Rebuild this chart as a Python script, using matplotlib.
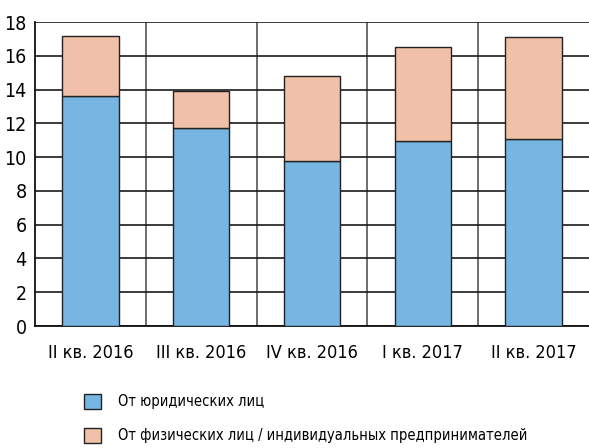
import matplotlib
matplotlib.use('Agg')

import matplotlib.pyplot as plt
from matplotlib.patches import Patch
from matplotlib.ticker import MultipleLocator, FixedLocator

categories = ['II кв. 2016', 'III кв. 2016', 'IV кв. 2016', 'I кв. 2017', 'II кв. 2017']
legal = [13.6, 11.75, 9.75, 10.95, 11.1]
individual = [3.6, 2.15, 5.05, 5.55, 6.0]
series_names = ['От юридических лиц', 'От физических лиц / индивидуальных предпринимателей']

blue = '#77b5e2'
peach = '#f0c1a8'

plt.rcParams['font.family'] = ['DejaVu Sans']
plt.rcParams['font.stretch'] = 'condensed'

fig = plt.figure(figsize=(5.89, 4.48), dpi=100)
ax = fig.add_axes([35 / 589, 122 / 448, 554 / 589, 304 / 448])

x = range(len(categories))
ax.bar(x, legal, width=0.51, color=blue, edgecolor='#222222', linewidth=1.0, zorder=3)
ax.bar(x, individual, width=0.51, bottom=legal, color=peach, edgecolor='#222222', linewidth=1.0, zorder=3)

ax.set_xlim(-0.5, len(categories) - 0.5)
ax.set_ylim(0, 18)
ax.yaxis.set_major_locator(MultipleLocator(2))
ax.set_xticks(list(x))
ax.set_xticklabels(categories)
ax.xaxis.set_minor_locator(FixedLocator([i + 0.5 for i in range(len(categories) - 1)]))

ax.grid(axis='y', which='major', color='#1a1a1a', linewidth=1.2, zorder=1)
ax.grid(axis='x', which='minor', color='#555555', linewidth=1.2, zorder=1)
ax.tick_params(axis='y', which='both', length=0, labelsize=14, pad=6)
ax.tick_params(axis='x', which='both', length=0, labelsize=13, pad=13)

for side in ['top', 'right']:
    ax.spines[side].set_visible(False)
for side in ['left', 'bottom']:
    ax.spines[side].set_linewidth(1.3)
    ax.spines[side].set_color('#111111')

handles = [Patch(facecolor=blue, edgecolor='#222222', linewidth=1.0),
           Patch(facecolor=peach, edgecolor='#222222', linewidth=1.0)]
fig.legend(handles, series_names, loc='upper left', bbox_to_anchor=(84 / 589, 1 - 394 / 448),
           frameon=False, fontsize=10.5, handlelength=1.15, handleheight=1.2,
           handletextpad=1.2, labelspacing=1.25, borderpad=0, borderaxespad=0)

plt.savefig('out.png', dpi=100)
